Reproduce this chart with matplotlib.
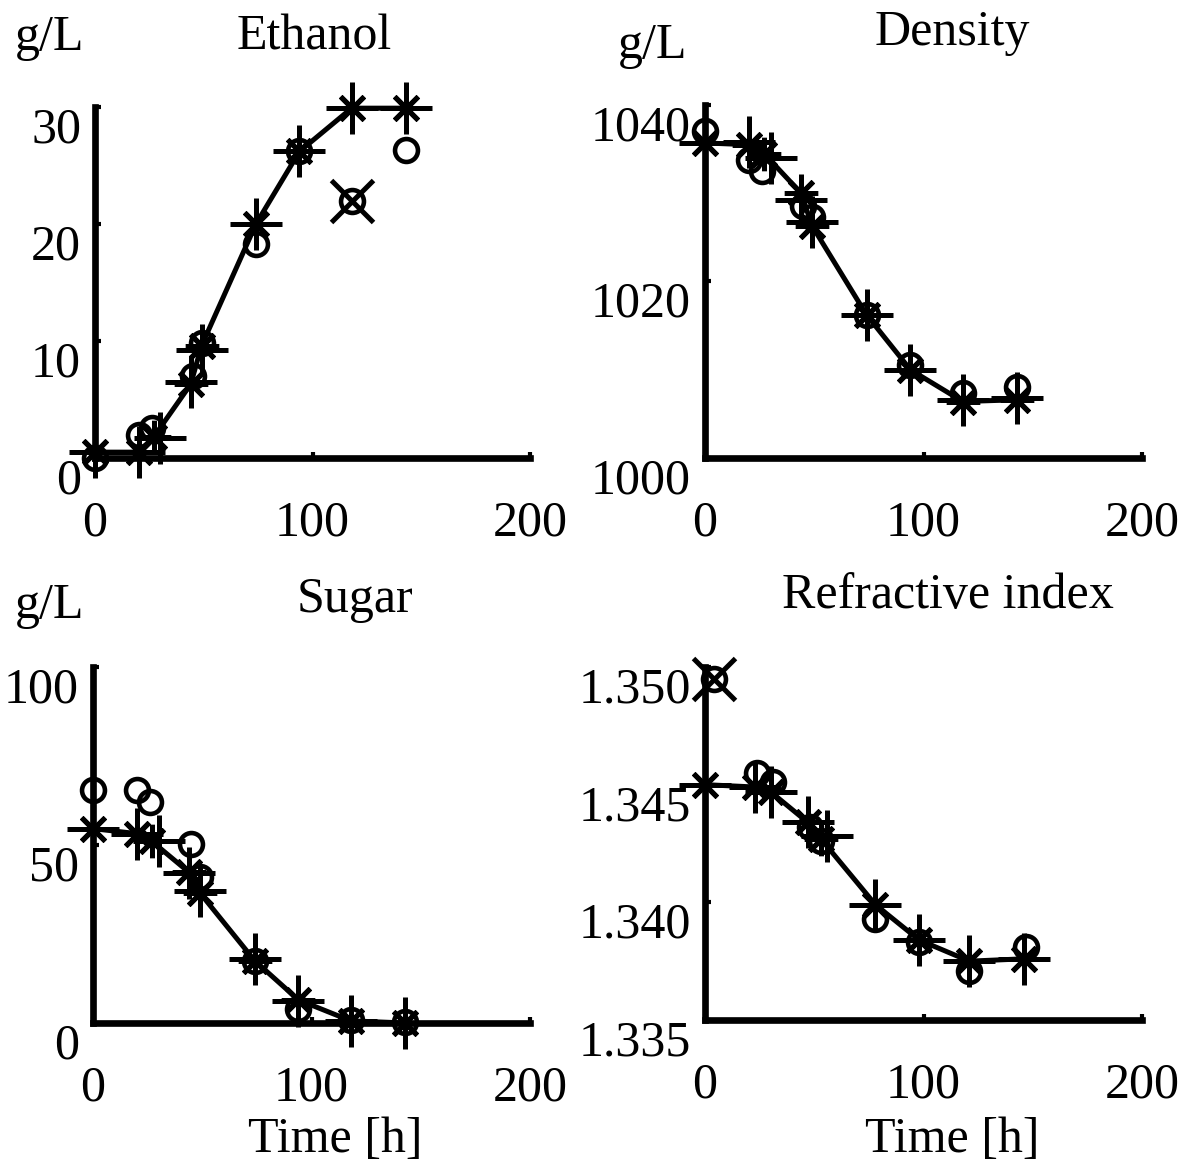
import matplotlib
matplotlib.use('Agg')
import matplotlib.pyplot as plt

plt.rcParams['font.family'] = ['Liberation Serif', 'DejaVu Serif']

# time points [h]
t_meas = [0, 20, 26, 45, 49, 74, 94, 118, 143]
t_model = [0, 20, 27, 44, 49, 74, 94, 118, 143]
t_plus = [0, 20, 30, 44, 49, 74, 94, 118, 143]
t_ri_meas = [4, 24, 31, 48, 53, 78, 98, 121, 147]
t_ri_model = [0, 23, 30, 47, 53, 78, 98, 121, 146]
t_ri_plus = [0, 23, 30, 47, 56, 78, 98, 121, 146]

# ethanol [g/L]
eth_o = [0.0, 2.0, 2.6, 7.0, 9.8, 18.3, 26.2, 22.0, 26.3]
eth_line = [0.5, 0.5, 1.8, 6.3, 9.6, 20.0, 26.2, 29.9, 29.9]
eth_plus = [0.5, 0.5, 1.7, 6.5, 9.2, 20.0, 26.2, 29.9, 29.9]
eth_out_t = [118]
eth_out = [22.0]

# density [g/L]
den_o = [1037.0, 1033.8, 1032.5, 1028.6, 1027.3, 1016.2, 1010.5, 1007.4, 1008.0]
den_line = [1035.7, 1035.5, 1034.5, 1030.0, 1026.3, 1016.2, 1010.0, 1006.4, 1006.6]
den_plus = [1035.7, 1035.8, 1034.0, 1029.2, 1026.7, 1016.2, 1010.0, 1006.6, 1006.8]
den_out_t = []
den_out = []

# sugar [g/L]
sug_o = [65.5, 65.5, 62.0, 50.4, 41.0, 17.5, 3.9, 0.9, 0.3]
sug_line = [54.6, 53.2, 51.0, 42.3, 36.5, 17.5, 6.5, 0.6, 0.0]
sug_plus = [54.6, 53.2, 51.2, 42.0, 37.0, 17.9, 6.1, 0.6, 0.0]
sug_out_t = []
sug_out = []

# refractive index
ri_o = [1.3495, 1.3455, 1.3451, 1.3432, 1.3426, 1.3393, 1.3383, 1.3371, 1.3381]
ri_line = [1.3450, 1.3449, 1.3447, 1.3434, 1.3427, 1.3399, 1.3384, 1.3375, 1.3376]
ri_plus = [1.3450, 1.3449, 1.3447, 1.3434, 1.3428, 1.3399, 1.3384, 1.3375, 1.3376]
ri_out_t = [4]
ri_out = [1.3495]

x_ticks = [0, 100, 200]

W, H = 1192, 1169
fig = plt.figure(figsize=(W / 100, H / 100), dpi=100)

ASTERISK = (8, 2, 0)
LW = 3.6


def px_axes(left, top, right, bottom):
    return fig.add_axes([left / W, 1 - bottom / H, (right - left) / W, (bottom - top) / H])


def px_text(x, y, s, ha='left'):
    fig.text(x / W, 1 - y / H, s, ha=ha, va='baseline', fontsize=36)


def draw_panel(ax, tm, tl, tp, o_vals, line_vals, plus_vals, out_t, out_vals, ylim, yticks, ylabels):
    ax.plot(tl, line_vals, '-', color='k', lw=LW, marker=ASTERISK, ms=24, mew=LW, clip_on=False)
    ax.plot(tp, plus_vals, '+', color='k', ms=37, mew=LW, ls='none', clip_on=False)
    ax.plot(out_t, out_vals, 'x', color='k', ms=30, mew=LW, ls='none', clip_on=False)
    ax.plot(tm, o_vals, 'o', color='k', mfc='none', ms=16.5, mew=3.3, ls='none', clip_on=False)

    ax.set_xlim(0, 200)
    ax.set_ylim(*ylim)
    ax.set_xticks(x_ticks)
    ax.set_xticklabels([str(v) for v in x_ticks])
    ax.set_yticks(yticks)
    ax.set_yticklabels(ylabels)
    for side in ['top', 'right']:
        ax.spines[side].set_visible(False)
    for side in ['left', 'bottom']:
        ax.spines[side].set_linewidth(4.8)
        ax.spines[side].set_capstyle('projecting')
    ax.tick_params(direction='in', length=4, width=3, labelsize=36)
    ax.tick_params(axis='x', pad=30)
    ax.tick_params(axis='y', pad=10)
    for lbl in ax.get_yticklabels():
        lbl.set_verticalalignment('top')
    ax.patch.set_visible(False)


ax1 = px_axes(95, 107, 530, 458)
draw_panel(ax1, t_meas, t_model, t_plus, eth_o, eth_line, eth_plus, eth_out_t, eth_out,
           (0, 30), [0, 10, 20, 30], ['0', '10', '20', '30'])

ax2 = px_axes(705, 105, 1142, 458)
draw_panel(ax2, t_meas, t_model, t_plus, den_o, den_line, den_plus, den_out_t, den_out,
           (1000, 1040), [1000, 1020, 1040], ['1000', '1020', '1040'])

ax3 = px_axes(93, 667, 530, 1023)
draw_panel(ax3, t_meas, t_model, t_plus, sug_o, sug_line, sug_plus, sug_out_t, sug_out,
           (0, 100), [0, 50, 100], ['0', '50', '100'])

ax4 = px_axes(705, 667, 1142, 1020)
draw_panel(ax4, t_ri_meas, t_ri_model, t_ri_plus, ri_o, ri_line, ri_plus, ri_out_t, ri_out,
           (1.335, 1.350), [1.335, 1.340, 1.345, 1.350], ['1.335', '1.340', '1.345', '1.350'])

# panel titles and units
px_text(15, 50, 'g/L')
px_text(314, 50, 'Ethanol', ha='center')
px_text(618, 58, 'g/L')
px_text(952, 45, 'Density', ha='center')
px_text(15, 618, 'g/L')
px_text(355, 612, 'Sugar', ha='center')
px_text(948, 608, 'Refractive index', ha='center')
px_text(335, 1152, 'Time [h]', ha='center')
px_text(952, 1152, 'Time [h]', ha='center')

fig.savefig('out.png', dpi=100)
